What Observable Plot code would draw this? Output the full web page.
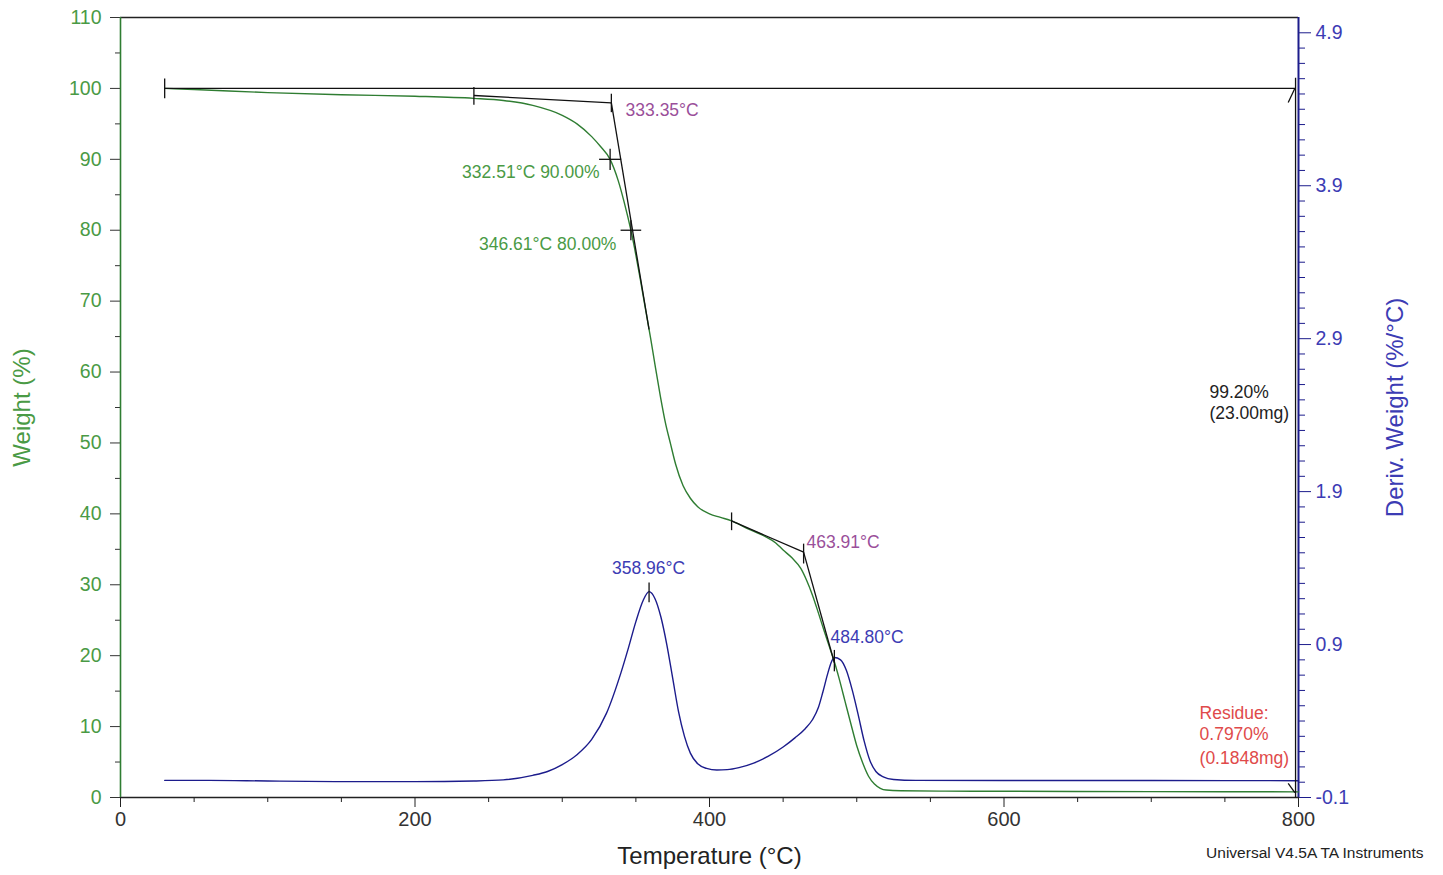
<!DOCTYPE html>
<html><head><meta charset="utf-8">
<script src="https://cdn.jsdelivr.net/npm/d3@7"></script>
<script src="https://cdn.jsdelivr.net/npm/@observablehq/plot@0.6"></script>
<style>body{margin:0;background:#fff;} svg{display:block}</style>
</head><body><div id="chart"></div>
<script>
// Weight curve (TGA), left axis
const tempW  = [30, 50, 100, 150, 200, 240, 260, 280, 300, 310, 320, 326, 332.5, 338, 342, 346.6, 350, 353, 356, 360, 363, 366.7, 370, 373.5, 377, 382, 387, 392, 400, 407.5, 415, 425, 437, 445, 450, 456, 462, 466, 470, 474, 478, 482, 485, 488, 492, 496, 500, 504, 508, 512, 516, 520, 530, 560, 600, 700, 800];
const weight = [100.0, 99.85, 99.4, 99.1, 98.9, 98.6, 98.3, 97.6, 96.2, 95.0, 93.2, 91.8, 90.0, 87.0, 84.0, 80.0, 76.5, 73.1, 69.5, 64.8, 61.0, 56.5, 52.9, 49.9, 47.0, 44.0, 42.2, 41.0, 40.0, 39.5, 39.0, 38.0, 36.9, 35.9, 34.9, 33.8, 32.3, 30.6, 28.5, 26.0, 23.4, 20.9, 19.0, 16.8, 13.6, 10.4, 7.3, 4.9, 3.0, 1.9, 1.3, 1.05, 0.95, 0.9, 0.88, 0.83, 0.8];
// Derivative curve, right axis
const tempD  = [30, 60, 100, 150, 200, 240, 260, 280, 290, 300, 310, 320, 330, 340, 345, 350, 355, 358.96, 363, 367, 371, 375, 379, 383, 387, 392, 398, 405, 412, 420, 430, 440, 450, 458, 465, 470, 474, 477, 480, 482.5, 484.8, 489, 493, 497, 501, 505, 509, 513, 518, 525, 540, 600, 700, 800];
const deriv  = [0.012, 0.012, 0.008, 0.004, 0.004, 0.008, 0.015, 0.045, 0.07, 0.115, 0.18, 0.28, 0.45, 0.72, 0.88, 1.05, 1.19, 1.246, 1.2, 1.08, 0.9, 0.68, 0.46, 0.3, 0.19, 0.12, 0.09, 0.08, 0.082, 0.095, 0.125, 0.17, 0.23, 0.29, 0.35, 0.41, 0.49, 0.59, 0.7, 0.78, 0.815, 0.8, 0.73, 0.6, 0.44, 0.27, 0.14, 0.07, 0.035, 0.018, 0.012, 0.011, 0.011, 0.01];

// Analysis results
const onset1 = 333.35, onset1W = 97.95, base1Start = 240, base1StartW = 99.0;
const onset2 = 463.91, onset2W = 34.6, base2Start = 415, base2StartW = 39.0;
const t90 = 332.51, t80 = 346.61;
const peak1 = 358.96, peak1D = 1.246, peak2 = 484.80, peak2D = 0.815;
const tang1End = [358.96, 66.0], tang2End = [484.8, 19.0];
const startT = 30, endT = 798;

// Axis ticks
const xTicks = [0, 200, 400, 600, 800];
const xMinor = [50, 100, 150, 250, 300, 350, 450, 500, 550, 650, 700, 750];
const leftTicks = [0, 10, 20, 30, 40, 50, 60, 70, 80, 90, 100, 110];
const leftMinor = [5, 15, 25, 35, 45, 55, 65, 75, 85, 95, 105];
const rightTicks = [-0.1, 0.9, 1.9, 2.9, 3.9, 4.9];
const rightMinor = d3.range(0, 51).map(i => Math.round((-0.1 + i * 0.1) * 10) / 10).filter(v => !rightTicks.includes(v));

const toY = d => (d + 0.1) * 110 / 5.1;
const fromY = y => y * 5.1 / 110 - 0.1;

const green = "#2f7d32", greenText = "#4a9a45", navy = "#1c1c8c", blueText = "#3c3cb4", purple = "#9a4f9a", red = "#e04a4a";

const wData = tempW.map((t, i) => ({t, v: weight[i]}));
const dData = tempD.map((t, i) => ({t, v: toY(deriv[i])}));

const segs = [
  [startT, 100, endT, 100],
  [startT, 98.6, startT, 101.4],
  [endT, 101.5, endT, 0],
  [793, 98.0, 797.5, 100],
  [793, 2.0, 797.5, 0.7],
  [base1Start, base1StartW, onset1, onset1W],
  [base1Start, base1StartW - 1.3, base1Start, base1StartW + 1.2],
  [onset1, onset1W + 1.3, onset1, onset1W - 1.3],
  [onset1, onset1W, tang1End[0], tang1End[1]],
  [t90 - 7.5, 90, t90 + 7.5, 90], [t90, 88.5, t90, 91.5],
  [t80 - 7, 80, t80 + 7, 80], [t80, 78.6, t80, 81.4],
  [base2Start, base2StartW, onset2, onset2W],
  [base2Start, base2StartW - 1.3, base2Start, base2StartW + 1.2],
  [onset2, onset2W + 1.2, onset2, onset2W - 1.6],
  [onset2, onset2W, tang2End[0], tang2End[1]],
  [peak1, toY(peak1D + 0.06), peak1, toY(peak1D - 0.07)],
  [peak2, toY(peak2D + 0.05), peak2, toY(peak2D - 0.09)]
].map(([x1, y1, x2, y2]) => ({x1, y1, x2, y2}));

const labelsStart = [
  {x: 343, y: 96.9, text: "333.35°C", fill: purple},
  {x: 465.9, y: 35.96, text: "463.91°C", fill: purple},
  {x: 482.2, y: 22.56, text: "484.80°C", fill: blueText},
  {x: 739.5, y: 57.1, text: "99.20%", fill: "#222"},
  {x: 739.5, y: 54.15, text: "(23.00mg)", fill: "#222"},
  {x: 732.8, y: 11.85, text: "Residue:", fill: red},
  {x: 732.8, y: 8.88, text: "0.7970%", fill: red},
  {x: 732.8, y: 5.5, text: "(0.1848mg)", fill: red}
];
const labelsEnd = [
  {x: 325.3, y: 88.1, text: "332.51°C 90.00%", fill: greenText},
  {x: 336.8, y: 78.0, text: "346.61°C 80.00%", fill: greenText}
];
const labelsMiddle = [
  {x: 358.6, y: 32.3, text: "358.96°C", fill: blueText}
];

const chart = Plot.plot({
  width: 1443, height: 875,
  marginLeft: 120, marginRight: 145, marginTop: 17, marginBottom: 78,
  x: {domain: [0, 800]},
  y: {domain: [0, 110]},
  style: {fontFamily: "'Liberation Sans', Arial, sans-serif", fontSize: "17px", background: "white", color: "#222"},
  marks: [
    Plot.axisX(xTicks, {tickSize: 10, tickPadding: 4, fontSize: 20, stroke: "#222", fill: "#333", label: null}),
    Plot.axisX(xMinor, {tickSize: 5, tickFormat: () => "", stroke: "#222", label: null}),
    Plot.axisY(leftTicks, {anchor: "left", tickSize: 10, tickPadding: 9, fontSize: 19.5, stroke: "#333", fill: greenText, label: null}),
    Plot.axisY(leftMinor, {anchor: "left", tickSize: 5, tickFormat: () => "", stroke: "#333", label: null}),
    Plot.axisY(rightTicks.map(toY), {anchor: "right", tickSize: 12, tickPadding: 5, fontSize: 19.5, stroke: navy, fill: blueText, label: null, tickFormat: v => fromY(v).toFixed(1)}),
    Plot.axisY(rightMinor.map(toY), {anchor: "right", tickSize: 6, tickFormat: () => "", stroke: navy, label: null}),
    Plot.ruleY([110], {stroke: "#222", strokeWidth: 1.3}),
    Plot.ruleY([0], {stroke: "#222", strokeWidth: 1.3}),
    Plot.ruleX([0], {stroke: green, strokeWidth: 1.6}),
    Plot.ruleX([800], {stroke: navy, strokeWidth: 2}),
    Plot.line(dData, {x: "t", y: "v", stroke: navy, strokeWidth: 1.4, curve: "monotone-x"}),
    Plot.line(wData, {x: "t", y: "v", stroke: green, strokeWidth: 1.4, curve: "monotone-x"}),
    Plot.link(segs, {x1: "x1", y1: "y1", x2: "x2", y2: "y2", stroke: "#111", strokeWidth: 1.3}),
    Plot.text(labelsStart, {x: "x", y: "y", text: "text", fill: "fill", textAnchor: "start", fontSize: 17.5}),
    Plot.text(labelsEnd, {x: "x", y: "y", text: "text", fill: "fill", textAnchor: "end", fontSize: 17.5}),
    Plot.text(labelsMiddle, {x: "x", y: "y", text: "text", fill: "fill", textAnchor: "middle", fontSize: 17.5}),
    Plot.text(["Weight (%)"], {text: d => d, frameAnchor: "left", dx: -98, rotate: -90, textAnchor: "middle", fill: greenText, fontSize: 24}),
    Plot.text(["Deriv. Weight (%/°C)"], {text: d => d, frameAnchor: "right", dx: 97, rotate: -90, textAnchor: "middle", fill: blueText, fontSize: 24}),
    Plot.text(["Temperature (°C)"], {text: d => d, frameAnchor: "bottom", dy: 66, textAnchor: "middle", fill: "#222", fontSize: 24}),
    Plot.text(["Universal V4.5A TA Instruments"], {text: d => d, frameAnchor: "bottom-right", dx: 125, dy: 60, textAnchor: "end", fill: "#222", fontSize: 15.5})
  ]
});
document.getElementById("chart").appendChild(chart);
</script>
</body></html>
